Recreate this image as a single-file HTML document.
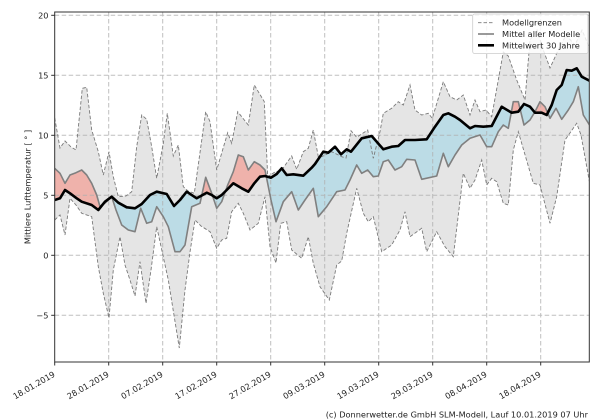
<!DOCTYPE html>
<html><head><meta charset="utf-8"><style>
html,body{margin:0;padding:0;background:#fff;}
svg{display:block;font-family:"DejaVu Sans","Liberation Sans",sans-serif;}
</style></head><body>
<svg width="600" height="420" viewBox="0 0 600 420" xmlns="http://www.w3.org/2000/svg">
<defs>
<clipPath id="plot"><rect x="54.7" y="12" width="534.6" height="350"/></clipPath>
<clipPath id="above"><polygon points="54.7,0 54.7,200 60,198.3 65,190 70,193.3 76.7,198.3 81.7,201.7 91.7,205 98.3,210 105,201.7 111.7,196.7 118.3,202.7 126.7,207.3 135,208.3 141.7,204 150,195 156.7,191.7 166.7,194 174,206 180,200 186.7,191.7 196.7,198.3 206.7,192.7 211.7,195 216.7,198.3 221.7,195 226.7,190 233.3,183.3 241.7,188.3 248.3,191.7 254.3,183.3 260,176.7 265,176 271,177.7 276.7,174 281.7,168.3 286.7,175 293.3,174.3 303.3,175.7 311.7,167.7 315,164 323.3,151.7 328.3,152.7 335,146.7 341,154.3 346.7,149.3 351,151.7 361.7,138.3 371.7,136 383.3,149.3 391.7,146.7 398.3,146 405,140 415,140 426.7,139.3 435,126.7 443.3,115 448.3,113.3 455,116.7 460,120 470,128.3 475,126 483.3,126.7 491.7,126 501.7,106.7 511.7,112.7 518.3,111.7 524,104 530,106.7 535,112.7 541.7,112.7 546.7,115 551.7,105 556.7,90 561.7,85 566.7,70 571.7,70.7 576.7,68.3 581.7,76.7 589.5,80.7 589.5,0"/></clipPath>
<clipPath id="below"><polygon points="54.7,420 54.7,200 60,198.3 65,190 70,193.3 76.7,198.3 81.7,201.7 91.7,205 98.3,210 105,201.7 111.7,196.7 118.3,202.7 126.7,207.3 135,208.3 141.7,204 150,195 156.7,191.7 166.7,194 174,206 180,200 186.7,191.7 196.7,198.3 206.7,192.7 211.7,195 216.7,198.3 221.7,195 226.7,190 233.3,183.3 241.7,188.3 248.3,191.7 254.3,183.3 260,176.7 265,176 271,177.7 276.7,174 281.7,168.3 286.7,175 293.3,174.3 303.3,175.7 311.7,167.7 315,164 323.3,151.7 328.3,152.7 335,146.7 341,154.3 346.7,149.3 351,151.7 361.7,138.3 371.7,136 383.3,149.3 391.7,146.7 398.3,146 405,140 415,140 426.7,139.3 435,126.7 443.3,115 448.3,113.3 455,116.7 460,120 470,128.3 475,126 483.3,126.7 491.7,126 501.7,106.7 511.7,112.7 518.3,111.7 524,104 530,106.7 535,112.7 541.7,112.7 546.7,115 551.7,105 556.7,90 561.7,85 566.7,70 571.7,70.7 576.7,68.3 581.7,76.7 589.5,80.7 589.5,420"/></clipPath>
</defs>

<g clip-path="url(#plot)">
<!-- gray model band -->
<polygon fill="rgb(211,211,211)" fill-opacity="0.6" points="54.7,118 60,148 65,141 70.7,146.7 76,150 82.3,88.3 86.7,87.3 91.7,130 98.3,151.7 103.3,175 109,151.7 113.3,176.7 118.3,196.7 126,196 131.7,191.7 136.7,146.7 141.7,115 146.7,119.3 151.7,146.7 156.7,178.3 163.3,143.3 167.3,113.3 173.3,156 178.3,145 183.3,186.7 188,191 194.3,193.3 205.7,111.7 210,121.7 216.7,170 227.7,132.7 231.7,143.3 237.7,111.7 248.3,125 254.3,85 264.3,101.7 267.7,176.7 275,172 281.7,170 291.7,156 296.7,169.3 303.3,151.7 308.3,148.3 313.3,130 318.3,156.7 321.7,156.7 331.7,151.7 341.7,156.7 346,158 351,130.7 356.7,137.3 367.7,130 373.3,158.3 380,131.7 383.3,113.3 391.7,108.3 398.3,101.7 403.3,105 410,85 415,110 421.7,115 428.3,113.3 432.3,118.3 443.3,81.7 450,96.7 456.7,100 463.3,95 470,115 475,100 480,111.7 486,110 491.7,116.7 503.3,52 508.3,56 516.7,80 525,100 530,40 537,30 543.3,50 550,68 558.3,50 566,35 575,45 582,30 589.5,48 589.5,182 581,135 576.7,123.3 565,140 556.7,196.7 550,223.3 540,185 533.3,183.3 518.3,131.7 513.3,150 508.3,205 503.3,203.3 496.7,181.7 491.7,178.3 486.7,185 481.7,160 475,180 470,188.3 463.3,173.3 453.3,256.7 445,246.7 436.7,231.7 426.7,251.7 421.7,228.3 410,236.7 405,211.7 400,230 391.7,245 381.7,251.7 373.3,216.7 368.3,221.7 363.3,213.3 356.7,188.3 346.7,233.3 341.7,261 336.7,265 329.3,300 320,286.7 313.3,263.3 308.3,236.7 301.7,258.3 291.7,250 286.7,221.7 280.7,223.3 276,263 270,246.7 265,196.7 258.3,223.3 250,230 243.3,213.3 238.3,203.3 231.7,211.7 226.7,238.3 221.7,240 216.7,248.3 210,231.7 201,226 195,220 190,252 185,290 179.3,348 168.3,280 156.7,226.7 151,270 146,303.3 140,261.7 135,296 130,280 125,265 120,236.7 113.3,270 109,318 103.3,293.3 98.3,266.7 91.7,216.7 81.7,213.3 76,205 70,198.3 65,235 60,215 54.7,220"/>

<!-- difference band polygon: model forward + clim reversed -->
<g id="diffred" clip-path="url(#above)">
<polygon fill="rgb(250,128,114)" fill-opacity="0.5" points="54.7,168.3 60,173.3 65,183.3 70,175 76,172.7 81.7,170 86.7,175 91.7,183.3 96.7,195 100,206.7 105,203 111.7,196.7 116,210 121.7,225 128.3,230 135,231.7 140.7,208.3 146.7,223.3 151.7,221.7 156.7,206.7 163.3,216.7 168.3,226.7 175,251.7 180,251.7 185,245 191.7,206.7 200,203.3 205.7,177.3 211.7,193.3 216.7,208.3 221.7,201.7 227.7,185 233.3,171.7 238.3,155 243.3,156.7 248.3,170 254.3,161.7 260,165 265,170 271,200 276,221.7 283.3,201.7 291.7,191.7 298.3,210 305,200 313.3,188.3 318.3,216.7 326.7,206.7 336.7,191.7 345,190 350,180 356.7,165 361.7,173.3 367.7,170 373.3,176.7 378.3,176 383.3,161.7 388.3,160 395,170 401.7,166.7 406.7,159.3 415,160 421.7,179.3 436.7,176 443.3,153.3 448.3,166.7 455,155 461.7,145 470,138.3 480,135 486.7,146.7 491.7,146.7 498.3,131.7 503.3,125 508.3,128.3 513.3,101.7 518.3,101.7 524,125 530,120 535,111.7 540,101.7 545,106.7 550,118.3 556,108.3 561.7,119.3 568.3,110 573.3,101.7 578.3,86.7 583.3,115 589.5,125 589.5,80.7 581.7,76.7 576.7,68.3 571.7,70.7 566.7,70 561.7,85 556.7,90 551.7,105 546.7,115 541.7,112.7 535,112.7 530,106.7 524,104 518.3,111.7 511.7,112.7 501.7,106.7 491.7,126 483.3,126.7 475,126 470,128.3 460,120 455,116.7 448.3,113.3 443.3,115 435,126.7 426.7,139.3 415,140 405,140 398.3,146 391.7,146.7 383.3,149.3 371.7,136 361.7,138.3 351,151.7 346.7,149.3 341,154.3 335,146.7 328.3,152.7 323.3,151.7 315,164 311.7,167.7 303.3,175.7 293.3,174.3 286.7,175 281.7,168.3 276.7,174 271,177.7 265,176 260,176.7 254.3,183.3 248.3,191.7 241.7,188.3 233.3,183.3 226.7,190 221.7,195 216.7,198.3 211.7,195 206.7,192.7 196.7,198.3 186.7,191.7 180,200 174,206 166.7,194 156.7,191.7 150,195 141.7,204 135,208.3 126.7,207.3 118.3,202.7 111.7,196.7 105,201.7 98.3,210 91.7,205 81.7,201.7 76.7,198.3 70,193.3 65,190 60,198.3 54.7,200"/>
</g>
<g clip-path="url(#below)">
<polygon fill="rgb(173,216,230)" fill-opacity="0.75" points="54.7,168.3 60,173.3 65,183.3 70,175 76,172.7 81.7,170 86.7,175 91.7,183.3 96.7,195 100,206.7 105,203 111.7,196.7 116,210 121.7,225 128.3,230 135,231.7 140.7,208.3 146.7,223.3 151.7,221.7 156.7,206.7 163.3,216.7 168.3,226.7 175,251.7 180,251.7 185,245 191.7,206.7 200,203.3 205.7,177.3 211.7,193.3 216.7,208.3 221.7,201.7 227.7,185 233.3,171.7 238.3,155 243.3,156.7 248.3,170 254.3,161.7 260,165 265,170 271,200 276,221.7 283.3,201.7 291.7,191.7 298.3,210 305,200 313.3,188.3 318.3,216.7 326.7,206.7 336.7,191.7 345,190 350,180 356.7,165 361.7,173.3 367.7,170 373.3,176.7 378.3,176 383.3,161.7 388.3,160 395,170 401.7,166.7 406.7,159.3 415,160 421.7,179.3 436.7,176 443.3,153.3 448.3,166.7 455,155 461.7,145 470,138.3 480,135 486.7,146.7 491.7,146.7 498.3,131.7 503.3,125 508.3,128.3 513.3,101.7 518.3,101.7 524,125 530,120 535,111.7 540,101.7 545,106.7 550,118.3 556,108.3 561.7,119.3 568.3,110 573.3,101.7 578.3,86.7 583.3,115 589.5,125 589.5,80.7 581.7,76.7 576.7,68.3 571.7,70.7 566.7,70 561.7,85 556.7,90 551.7,105 546.7,115 541.7,112.7 535,112.7 530,106.7 524,104 518.3,111.7 511.7,112.7 501.7,106.7 491.7,126 483.3,126.7 475,126 470,128.3 460,120 455,116.7 448.3,113.3 443.3,115 435,126.7 426.7,139.3 415,140 405,140 398.3,146 391.7,146.7 383.3,149.3 371.7,136 361.7,138.3 351,151.7 346.7,149.3 341,154.3 335,146.7 328.3,152.7 323.3,151.7 315,164 311.7,167.7 303.3,175.7 293.3,174.3 286.7,175 281.7,168.3 276.7,174 271,177.7 265,176 260,176.7 254.3,183.3 248.3,191.7 241.7,188.3 233.3,183.3 226.7,190 221.7,195 216.7,198.3 211.7,195 206.7,192.7 196.7,198.3 186.7,191.7 180,200 174,206 166.7,194 156.7,191.7 150,195 141.7,204 135,208.3 126.7,207.3 118.3,202.7 111.7,196.7 105,201.7 98.3,210 91.7,205 81.7,201.7 76.7,198.3 70,193.3 65,190 60,198.3 54.7,200"/>
</g>

<!-- grid -->
<g stroke="#b0b0b0" stroke-width="1" stroke-dasharray="4.5,2.5" opacity="0.8" fill="none">
<line x1="108.7" y1="12" x2="108.7" y2="362"/>
<line x1="162.7" y1="12" x2="162.7" y2="362"/>
<line x1="216.7" y1="12" x2="216.7" y2="362"/>
<line x1="270.7" y1="12" x2="270.7" y2="362"/>
<line x1="324.7" y1="12" x2="324.7" y2="362"/>
<line x1="378.7" y1="12" x2="378.7" y2="362"/>
<line x1="432.7" y1="12" x2="432.7" y2="362"/>
<line x1="486.7" y1="12" x2="486.7" y2="362"/>
<line x1="540.7" y1="12" x2="540.7" y2="362"/>
<line x1="54.7" y1="15.3" x2="589.3" y2="15.3"/>
<line x1="54.7" y1="75.3" x2="589.3" y2="75.3"/>
<line x1="54.7" y1="135.3" x2="589.3" y2="135.3"/>
<line x1="54.7" y1="195.3" x2="589.3" y2="195.3"/>
<line x1="54.7" y1="255.3" x2="589.3" y2="255.3"/>
<line x1="54.7" y1="315.3" x2="589.3" y2="315.3"/>
</g>

<!-- bounds -->
<g fill="none" stroke="#7a7a7a" stroke-width="0.9" stroke-dasharray="3.5,2">
<polyline points="54.7,118 60,148 65,141 70.7,146.7 76,150 82.3,88.3 86.7,87.3 91.7,130 98.3,151.7 103.3,175 109,151.7 113.3,176.7 118.3,196.7 126,196 131.7,191.7 136.7,146.7 141.7,115 146.7,119.3 151.7,146.7 156.7,178.3 163.3,143.3 167.3,113.3 173.3,156 178.3,145 183.3,186.7 188,191 194.3,193.3 205.7,111.7 210,121.7 216.7,170 227.7,132.7 231.7,143.3 237.7,111.7 248.3,125 254.3,85 264.3,101.7 267.7,176.7 275,172 281.7,170 291.7,156 296.7,169.3 303.3,151.7 308.3,148.3 313.3,130 318.3,156.7 321.7,156.7 331.7,151.7 341.7,156.7 346,158 351,130.7 356.7,137.3 367.7,130 373.3,158.3 380,131.7 383.3,113.3 391.7,108.3 398.3,101.7 403.3,105 410,85 415,110 421.7,115 428.3,113.3 432.3,118.3 443.3,81.7 450,96.7 456.7,100 463.3,95 470,115 475,100 480,111.7 486,110 491.7,116.7 503.3,52 508.3,56 516.7,80 525,100 530,40 537,30 543.3,50 550,68 558.3,50 566,35 575,45 582,30 589.5,48"/>
<polyline points="54.7,220 60,215 65,235 70,198.3 76,205 81.7,213.3 91.7,216.7 98.3,266.7 103.3,293.3 109,318 113.3,270 120,236.7 125,265 130,280 135,296 140,261.7 146,303.3 151,270 156.7,226.7 168.3,280 179.3,348 185,290 190,252 195,220 201,226 210,231.7 216.7,248.3 221.7,240 226.7,238.3 231.7,211.7 238.3,203.3 243.3,213.3 250,230 258.3,223.3 265,196.7 270,246.7 276,263 280.7,223.3 286.7,221.7 291.7,250 301.7,258.3 308.3,236.7 313.3,263.3 320,286.7 329.3,300 336.7,265 341.7,261 346.7,233.3 356.7,188.3 363.3,213.3 368.3,221.7 373.3,216.7 381.7,251.7 391.7,245 400,230 405,211.7 410,236.7 421.7,228.3 426.7,251.7 436.7,231.7 445,246.7 453.3,256.7 463.3,173.3 470,188.3 475,180 481.7,160 486.7,185 491.7,178.3 496.7,181.7 503.3,203.3 508.3,205 513.3,150 518.3,131.7 533.3,183.3 540,185 550,223.3 556.7,196.7 565,140 576.7,123.3 581,135 589.5,182"/>
</g>

<!-- model mean -->
<polyline fill="none" stroke="#808080" stroke-width="1.6" stroke-linejoin="round" points="54.7,168.3 60,173.3 65,183.3 70,175 76,172.7 81.7,170 86.7,175 91.7,183.3 96.7,195 100,206.7 105,203 111.7,196.7 116,210 121.7,225 128.3,230 135,231.7 140.7,208.3 146.7,223.3 151.7,221.7 156.7,206.7 163.3,216.7 168.3,226.7 175,251.7 180,251.7 185,245 191.7,206.7 200,203.3 205.7,177.3 211.7,193.3 216.7,208.3 221.7,201.7 227.7,185 233.3,171.7 238.3,155 243.3,156.7 248.3,170 254.3,161.7 260,165 265,170 271,200 276,221.7 283.3,201.7 291.7,191.7 298.3,210 305,200 313.3,188.3 318.3,216.7 326.7,206.7 336.7,191.7 345,190 350,180 356.7,165 361.7,173.3 367.7,170 373.3,176.7 378.3,176 383.3,161.7 388.3,160 395,170 401.7,166.7 406.7,159.3 415,160 421.7,179.3 436.7,176 443.3,153.3 448.3,166.7 455,155 461.7,145 470,138.3 480,135 486.7,146.7 491.7,146.7 498.3,131.7 503.3,125 508.3,128.3 513.3,101.7 518.3,101.7 524,125 530,120 535,111.7 540,101.7 545,106.7 550,118.3 556,108.3 561.7,119.3 568.3,110 573.3,101.7 578.3,86.7 583.3,115 589.5,125"/>

<!-- 30 year mean -->
<polyline fill="none" stroke="#000" stroke-width="2.6" stroke-linejoin="round" points="54.7,200 60,198.3 65,190 70,193.3 76.7,198.3 81.7,201.7 91.7,205 98.3,210 105,201.7 111.7,196.7 118.3,202.7 126.7,207.3 135,208.3 141.7,204 150,195 156.7,191.7 166.7,194 174,206 180,200 186.7,191.7 196.7,198.3 206.7,192.7 211.7,195 216.7,198.3 221.7,195 226.7,190 233.3,183.3 241.7,188.3 248.3,191.7 254.3,183.3 260,176.7 265,176 271,177.7 276.7,174 281.7,168.3 286.7,175 293.3,174.3 303.3,175.7 311.7,167.7 315,164 323.3,151.7 328.3,152.7 335,146.7 341,154.3 346.7,149.3 351,151.7 361.7,138.3 371.7,136 383.3,149.3 391.7,146.7 398.3,146 405,140 415,140 426.7,139.3 435,126.7 443.3,115 448.3,113.3 455,116.7 460,120 470,128.3 475,126 483.3,126.7 491.7,126 501.7,106.7 511.7,112.7 518.3,111.7 524,104 530,106.7 535,112.7 541.7,112.7 546.7,115 551.7,105 556.7,90 561.7,85 566.7,70 571.7,70.7 576.7,68.3 581.7,76.7 589.5,80.7"/>
</g>

<!-- spines -->
<rect x="54.7" y="12" width="534.6" height="350" fill="none" stroke="#333" stroke-width="1"/>

<!-- y ticks -->
<g stroke="#333" stroke-width="1">
<line x1="51.2" y1="15.3" x2="54.7" y2="15.3"/>
<line x1="51.2" y1="75.3" x2="54.7" y2="75.3"/>
<line x1="51.2" y1="135.3" x2="54.7" y2="135.3"/>
<line x1="51.2" y1="195.3" x2="54.7" y2="195.3"/>
<line x1="51.2" y1="255.3" x2="54.7" y2="255.3"/>
<line x1="51.2" y1="315.3" x2="54.7" y2="315.3"/>
<line x1="54.7" y1="362" x2="54.7" y2="365.5"/>
<line x1="108.7" y1="362" x2="108.7" y2="365.5"/>
<line x1="162.7" y1="362" x2="162.7" y2="365.5"/>
<line x1="216.7" y1="362" x2="216.7" y2="365.5"/>
<line x1="270.7" y1="362" x2="270.7" y2="365.5"/>
<line x1="324.7" y1="362" x2="324.7" y2="365.5"/>
<line x1="378.7" y1="362" x2="378.7" y2="365.5"/>
<line x1="432.7" y1="362" x2="432.7" y2="365.5"/>
<line x1="486.7" y1="362" x2="486.7" y2="365.5"/>
<line x1="540.7" y1="362" x2="540.7" y2="365.5"/>
</g>
<g font-size="8.2" fill="#222" text-anchor="end">
<text x="48.5" y="18.3">20</text>
<text x="48.5" y="78.3">15</text>
<text x="48.5" y="138.3">10</text>
<text x="48.5" y="198.3">5</text>
<text x="48.5" y="258.3">0</text>
<text x="48.5" y="318.3">−5</text>
</g>
<g font-size="8.2" fill="#222" text-anchor="end">
<text transform="translate(55.7,376) rotate(-30)">18.01.2019</text>
<text transform="translate(109.7,376) rotate(-30)">28.01.2019</text>
<text transform="translate(163.7,376) rotate(-30)">07.02.2019</text>
<text transform="translate(217.7,376) rotate(-30)">17.02.2019</text>
<text transform="translate(271.7,376) rotate(-30)">27.02.2019</text>
<text transform="translate(325.7,376) rotate(-30)">09.03.2019</text>
<text transform="translate(379.7,376) rotate(-30)">19.03.2019</text>
<text transform="translate(433.7,376) rotate(-30)">29.03.2019</text>
<text transform="translate(487.7,376) rotate(-30)">08.04.2019</text>
<text transform="translate(541.7,376) rotate(-30)">18.04.2019</text>
</g>
<text transform="translate(30.7,187) rotate(-90)" font-size="8.2" fill="#222" text-anchor="middle">Mittlere Lufttemperatur [ ° ]</text>

<!-- legend -->
<rect x="472.7" y="14" width="115.3" height="39.5" rx="2" ry="2" fill="#fff" fill-opacity="0.82" stroke="#cccccc" stroke-width="0.8"/>
<line x1="478" y1="22.7" x2="494" y2="22.7" stroke="#7a7a7a" stroke-width="0.9" stroke-dasharray="3.5,2"/>
<line x1="478" y1="34" x2="494" y2="34" stroke="#808080" stroke-width="1.6"/>
<line x1="478" y1="45.3" x2="494" y2="45.3" stroke="#000" stroke-width="2.6"/>
<g font-size="8.2" fill="#222">
<text x="502" y="25.7">Modellgrenzen</text>
<text x="502" y="37">Mittel aller Modelle</text>
<text x="502" y="48.3">Mittelwert 30 Jahre</text>
</g>

<text x="588" y="417.5" font-size="8.2" fill="#222" text-anchor="end">(c) Donnerwetter.de GmbH SLM-Modell, Lauf 10.01.2019 07 Uhr</text>
</svg>
</body></html>
